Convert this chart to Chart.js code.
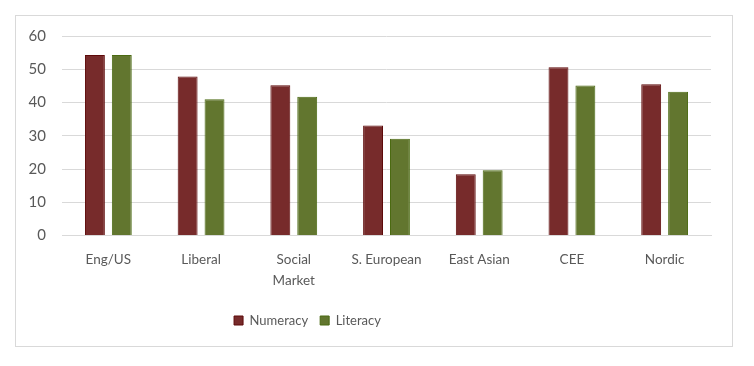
<!DOCTYPE html>
<html>
<head>
<meta charset="utf-8">
<script src="https://cdn.jsdelivr.net/npm/chart.js@4.4.0/dist/chart.umd.min.js"></script>
<style>
  body { margin:0; background:#fff; width:754px; height:366px; }
  #box { position:absolute; left:15px; top:15px; width:718px; height:332px; border:1px solid #d9d9d9; box-sizing:border-box; }
  #c { display:block; }
</style>
</head>
<body>
<div id="box"><canvas id="c" width="716" height="330"></canvas></div>
<script>
const categories = ['Eng/US', 'Liberal', ['Social', 'Market'], 'S. European', 'East Asian', 'CEE', 'Nordic'];
const numeracy = [54.3, 47.8, 45.2, 33.1, 18.4, 50.6, 45.5];
const literacy = [54.3, 41.0, 41.7, 29.1, 19.6, 45.1, 43.2];
const yTicks = [0, 10, 20, 30, 40, 50, 60];

const txt = '#595959';
const fontFam = 'Lato, "Open Sans", sans-serif';

// shift legend to where it sits in the original
const legendShift = {
  id: 'legendShift',
  afterLayout(chart) {
    const lg = chart.legend;
    lg.left -= 56; lg.right -= 56;
  }
};

new Chart(document.getElementById('c'), {
  type: 'bar',
  data: {
    labels: categories,
    datasets: [
      { label: 'Numeracy', data: numeracy, backgroundColor: '#772b2b', borderColor: '#5e0a0a', borderWidth: 1 },
      { label: 'Literacy', data: literacy, backgroundColor: '#62762f', borderColor: '#4b6a12', borderWidth: 1 }
    ]
  },
  options: {
    responsive: false,
    animation: false,
    layout: { padding: { top: 20, right: 21, left: 0, bottom: 9 } },
    datasets: { bar: { categoryPercentage: 0.58, barPercentage: 0.74 } },
    scales: {
      x: {
        afterFit: s => { s.height += 4.6; },
        grid: { display: false },
        border: { color: '#d9d9d9' },
        ticks: { color: txt, font: { family: fontFam, size: 13.5, lineHeight: 1.55 }, padding: 6, maxRotation: 0, autoSkip: false }
      },
      y: {
        min: 0, max: 60,
        afterBuildTicks: s => { s.ticks = yTicks.map(v => ({ value: v })); },
        afterFit: s => { s.width = 46; s.paddingTop = 0; s.paddingBottom = 0; },
        grid: { color: '#d9d9d9', drawTicks: false },
        border: { display: false },
        ticks: { color: txt, font: { family: fontFam, size: 15 }, padding: 16 }
      }
    },
    plugins: {
      legend: {
        position: 'bottom',
        labels: { color: txt, font: { family: fontFam, size: 13 }, boxWidth: 9, boxHeight: 9, padding: 12 }
      },
      tooltip: { enabled: false }
    }
  },
  plugins: [legendShift]
});
</script>
</body>
</html>
